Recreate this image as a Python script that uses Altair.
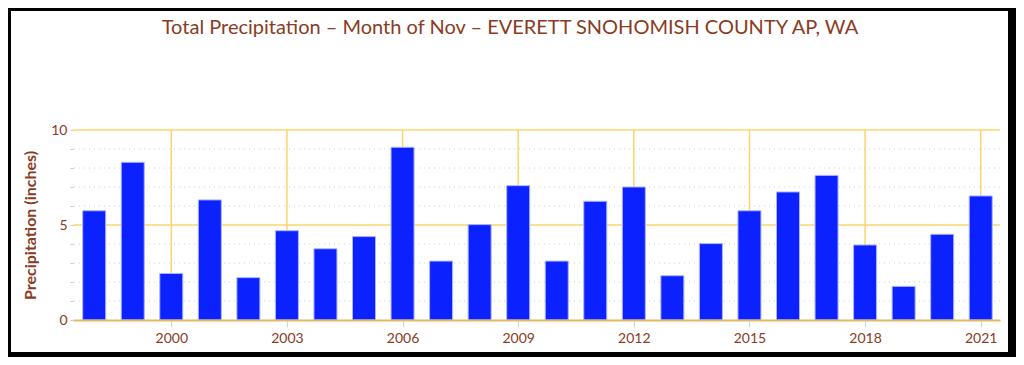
import altair as alt
import pandas as pd

years = list(range(1998, 2022))
precip = [5.75, 8.3, 2.45, 6.32, 2.23, 4.7, 3.75, 4.39, 9.09, 3.1, 5.02, 7.07,
          3.1, 6.25, 7.0, 2.33, 4.02, 5.75, 6.74, 7.61, 3.95, 1.77, 4.51, 6.53]
x_ticks = [2000, 2003, 2006, 2009, 2012, 2015, 2018, 2021]
major_y = [5, 10]
minor_y = [1, 2, 3, 4, 6, 7, 8, 9]
title_text = "Total Precipitation \u2013 Month of Nov \u2013 EVERETT SNOHOMISH COUNTY AP, WA"
y_title = "Precipitation (inches)"

BROWN = "#8a3b24"
GOLD = "#fcd46c"

df = pd.DataFrame({"year": years, "precip": precip})
xscale = alt.Scale(domain=[1997.45, 2021.5], nice=False, zero=False, padding=0)
yscale = alt.Scale(domain=[0, 10], nice=False, padding=0)

xaxis = alt.Axis(values=x_ticks, format="d", grid=False,
                 domainColor="#e6b860", domainWidth=2,
                 tickColor="#c9d8f0", tickSize=7,
                 labelColor=BROWN, labelFont="Lato", labelFontSize=14,
                 labelPadding=4, zindex=1)
yaxis = alt.Axis(values=list(range(0, 11)), grid=False, domain=False,
                 labelExpr="datum.value % 5 === 0 ? datum.value : ''",
                 tickColor="#c8c8c8", tickSize=3,
                 labelColor=BROWN, labelFont="Lato", labelFontSize=14,
                 labelPadding=3,
                 titleColor=BROWN, titleFont="Lato",
                 titleFontSize=16, titleFontWeight="bold",
                 titlePadding=12, zindex=1)

W, H = 927, 190
one = pd.DataFrame({"a": [0]})

frame = alt.Chart(one).mark_rect(color="white").encode(
    x=alt.value(-62), x2=alt.value(935), y=alt.value(-119), y2=alt.value(222)
)

title = alt.Chart(pd.DataFrame({"t": [title_text]})).mark_text(
    color=BROWN, font="Lato", fontSize=20, align="center", baseline="alphabetic"
).encode(text="t:N", x=alt.value(437), y=alt.value(-96))

minor = alt.Chart(pd.DataFrame({"v": minor_y})).mark_rule(
    color="#d0d0d0", strokeDash=[1, 4], strokeWidth=1
).encode(y=alt.Y("v:Q", scale=yscale, title=y_title, axis=yaxis))

vgrid = alt.Chart(pd.DataFrame({"t": x_ticks})).mark_rule(
    color=GOLD, strokeWidth=1.5
).encode(x=alt.X("t:Q", scale=xscale, title=None, axis=xaxis))

hgrid = alt.Chart(pd.DataFrame({"v": major_y})).mark_rule(
    color=GOLD, strokeWidth=1.5
).encode(y=alt.Y("v:Q", scale=yscale, title=y_title, axis=yaxis))

bars = alt.Chart(df).mark_bar(
    width=23, color="#0b22ff", stroke="#a8b4ff", strokeWidth=1
).encode(
    x=alt.X("year:Q", scale=xscale, title=None, axis=xaxis),
    y=alt.Y("precip:Q", scale=yscale, title=y_title, axis=yaxis),
)

chart = alt.layer(frame, title, minor, vgrid, hgrid, bars).properties(
    width=W, height=H,
    autosize=alt.AutoSizeParams(type="none"),
    padding={"left": 65, "top": 122, "right": 16, "bottom": 37},
).configure(background="black").configure_view(stroke=None)

chart.save("out.html", embed_options={"renderer": "svg", "actions": False})
